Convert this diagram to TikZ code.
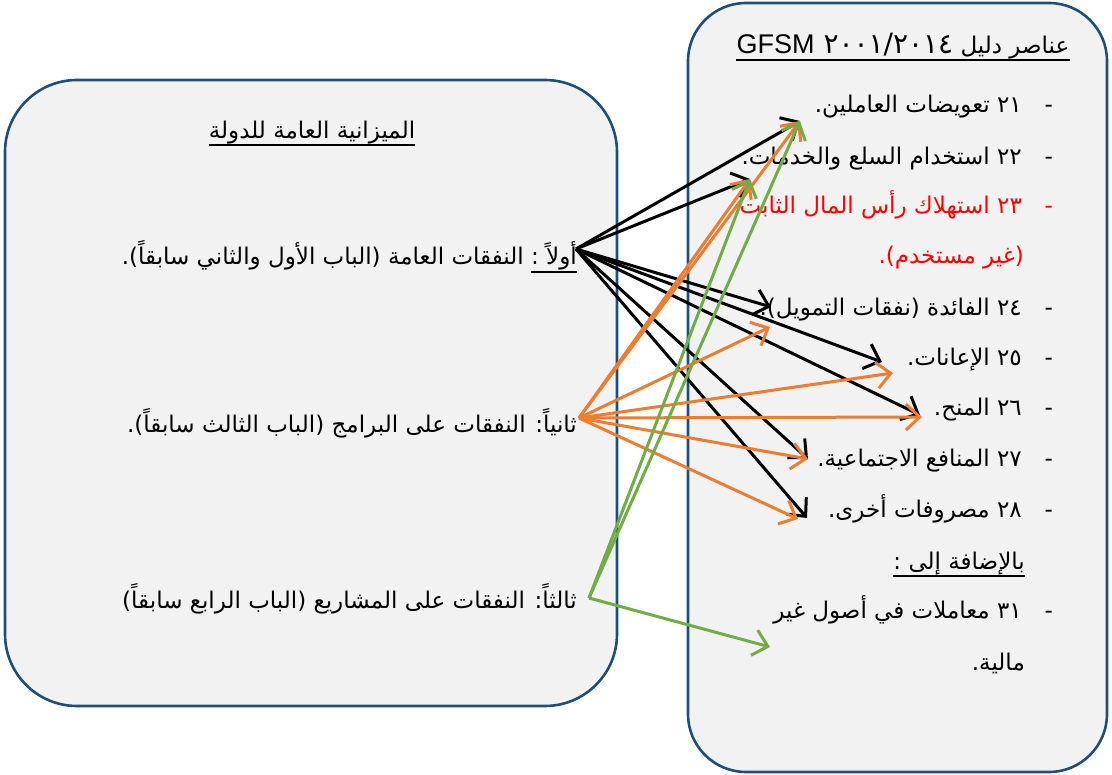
\documentclass[tikz,border=0pt]{standalone}
\usepackage{fontspec}
\setmainfont{Liberation Sans}
\newfontfamily\arabicfont[Script=Arabic]{DejaVu Sans}
\newfontfamily\latinfont{Liberation Sans}
\TeXXeTstate=1
\usetikzlibrary{arrows.meta}

\definecolor{boxblue}{HTML}{1F4E79}
\definecolor{boxgray}{HTML}{F2F2F2}
\definecolor{arrorange}{HTML}{ED7D31}
\definecolor{arrgreen}{HTML}{70AD47}

\newcommand{\artext}[1]{\beginR #1\endR}
\newcommand{\arnum}[1]{\beginL #1\endL}

\begin{document}
\begin{tikzpicture}[x=1pt,y=-1pt,
  box/.style={draw=boxblue,fill=boxgray,line width=2.6pt,rounded corners=72pt},
  lbl/.style={inner sep=0pt,font=\arabicfont\fontsize{23}{27}\selectfont},
  item/.style={lbl,anchor=base east},
  uline/.style={line width=2.2pt},
  arr/.style={line width=3pt,-{Straight Barb[length=14pt,width=26pt]}}]
  \useasboundingbox (0,0) rectangle (1112,775);
  \draw[box] (5,80) rectangle (617,706);
  \draw[box,rounded corners=58pt] (688,3) rectangle (1107,772);

  % left box
  \node[lbl] (budget) at (312,133) {\artext{الميزانية العامة للدولة}};
  \node[item] (first) at (577,265) {\artext{أولاً :}};
  \node[item] (firstrest) at ([xshift=-7pt]first.base west) {\artext{النفقات العامة (الباب الأول والثاني سابقاً).}};
  \node[item] (second) at (577,433) {\artext{ثانياً: النفقات على البرامج (الباب الثالث سابقاً).}};
  \node[item] (third) at (577,608) {\artext{ثالثاً: النفقات على المشاريع (الباب الرابع سابقاً)}};
  \draw[uline] ([yshift=-6pt]budget.base west) -- ([yshift=-6pt]budget.base east);
  \draw[uline] ([yshift=-7pt]first.base west) -- ([yshift=-7pt]first.base east);

  % right box
  \node[lbl] (gfsm) at (903,46) {\artext{عناصر دليل \arnum{\fontsize{28}{30}\selectfont ٢٠٠١/٢٠١٤} \arnum{{\latinfont\fontsize{27}{30}\selectfont GFSM}}}};
  \draw[uline] ([yshift=-7pt]gfsm.base west) -- ([yshift=-7pt]gfsm.base east);
  \node[item] (i21) at (1022,113) {\artext{\arnum{٢١} تعويضات العاملين.}};
  \node[item] (i22) at (1022,165) {\artext{\arnum{٢٢} استخدام السلع والخدمات.}};
  \node[item,red] (i23) at (1022,214) {\artext{\arnum{٢٣} استهلاك رأس المال الثابت}};
  \node[item,red] (i23b) at (1024,264) {\artext{(غير مستخدم).}};
  \node[item] (i24) at (1022,316) {\artext{\arnum{٢٤} الفائدة (نفقات التمويل).}};
  \node[item] (i25) at (1022,366) {\artext{\arnum{٢٥} الإعانات.}};
  \node[item] (i26) at (1022,416) {\artext{\arnum{٢٦} المنح.}};
  \node[item] (i27) at (1022,467) {\artext{\arnum{٢٧} المنافع الاجتماعية.}};
  \node[item] (i28) at (1022,518) {\artext{\arnum{٢٨} مصروفات أخرى.}};
  \node[item] (plus) at (1025,569) {\artext{بالإضافة إلى :}};
  \draw[uline] ([yshift=-7pt]plus.base west) -- ([yshift=-7pt]plus.base east);
  \node[item] (i31) at (1022,618) {\artext{\arnum{٣١} معاملات في أصول غير}};
  \node[item] (i31b) at (1025,670) {\artext{مالية.}};
  \node[item] (d21) at (1053,113) {-};
  \node[item] (d22) at (1053,165) {-};
  \node[item,red] (d23) at (1053,214) {-};
  \node[item] (d24) at (1053,316) {-};
  \node[item] (d25) at (1053,366) {-};
  \node[item] (d26) at (1053,416) {-};
  \node[item] (d27) at (1053,467) {-};
  \node[item] (d28) at (1053,518) {-};
  \node[item] (d31) at (1053,618) {-};

  % arrow ends
  \coordinate (firstout) at (576,249);
  \coordinate (secondout) at (579,418);
  \coordinate (thirdout) at (589,598);
  \coordinate (to21) at (800,121);
  \coordinate (to22) at (750,179);
  \coordinate (to24a) at (771,307);
  \coordinate (to24b) at (770,327);
  \coordinate (to25a) at (882,362);
  \coordinate (to25b) at (893,373);
  \coordinate (to26a) at (920,415);
  \coordinate (to26b) at (922,417);
  \coordinate (to27) at (808,459);
  \coordinate (to28a) at (807,518);
  \coordinate (to28b) at (798,519);
  \coordinate (to31) at (770,647);

  \draw[arr] (firstout) -- (to21);
  \draw[arr] (firstout) -- (to22);
  \draw[arr] (firstout) -- (to24a);
  \draw[arr] (firstout) -- (to25a);
  \draw[arr] (firstout) -- (to26a);
  \draw[arr] (firstout) -- (to27);
  \draw[arr] (firstout) -- (to28a);
  \draw[arr,arrorange] (secondout) -- (to21);
  \draw[arr,arrorange] (secondout) -- (to22);
  \draw[arr,arrorange] (secondout) -- (to24b);
  \draw[arr,arrorange] (secondout) -- (to25b);
  \draw[arr,arrorange] (secondout) -- (to26b);
  \draw[arr,arrorange] (secondout) -- (to27);
  \draw[arr,arrorange] (secondout) -- (to28b);
  \draw[arr,arrgreen] (thirdout) -- (to21);
  \draw[arr,arrgreen] (thirdout) -- (to22);
  \draw[arr,arrgreen] (thirdout) -- (to31);
\end{tikzpicture}
\end{document}
